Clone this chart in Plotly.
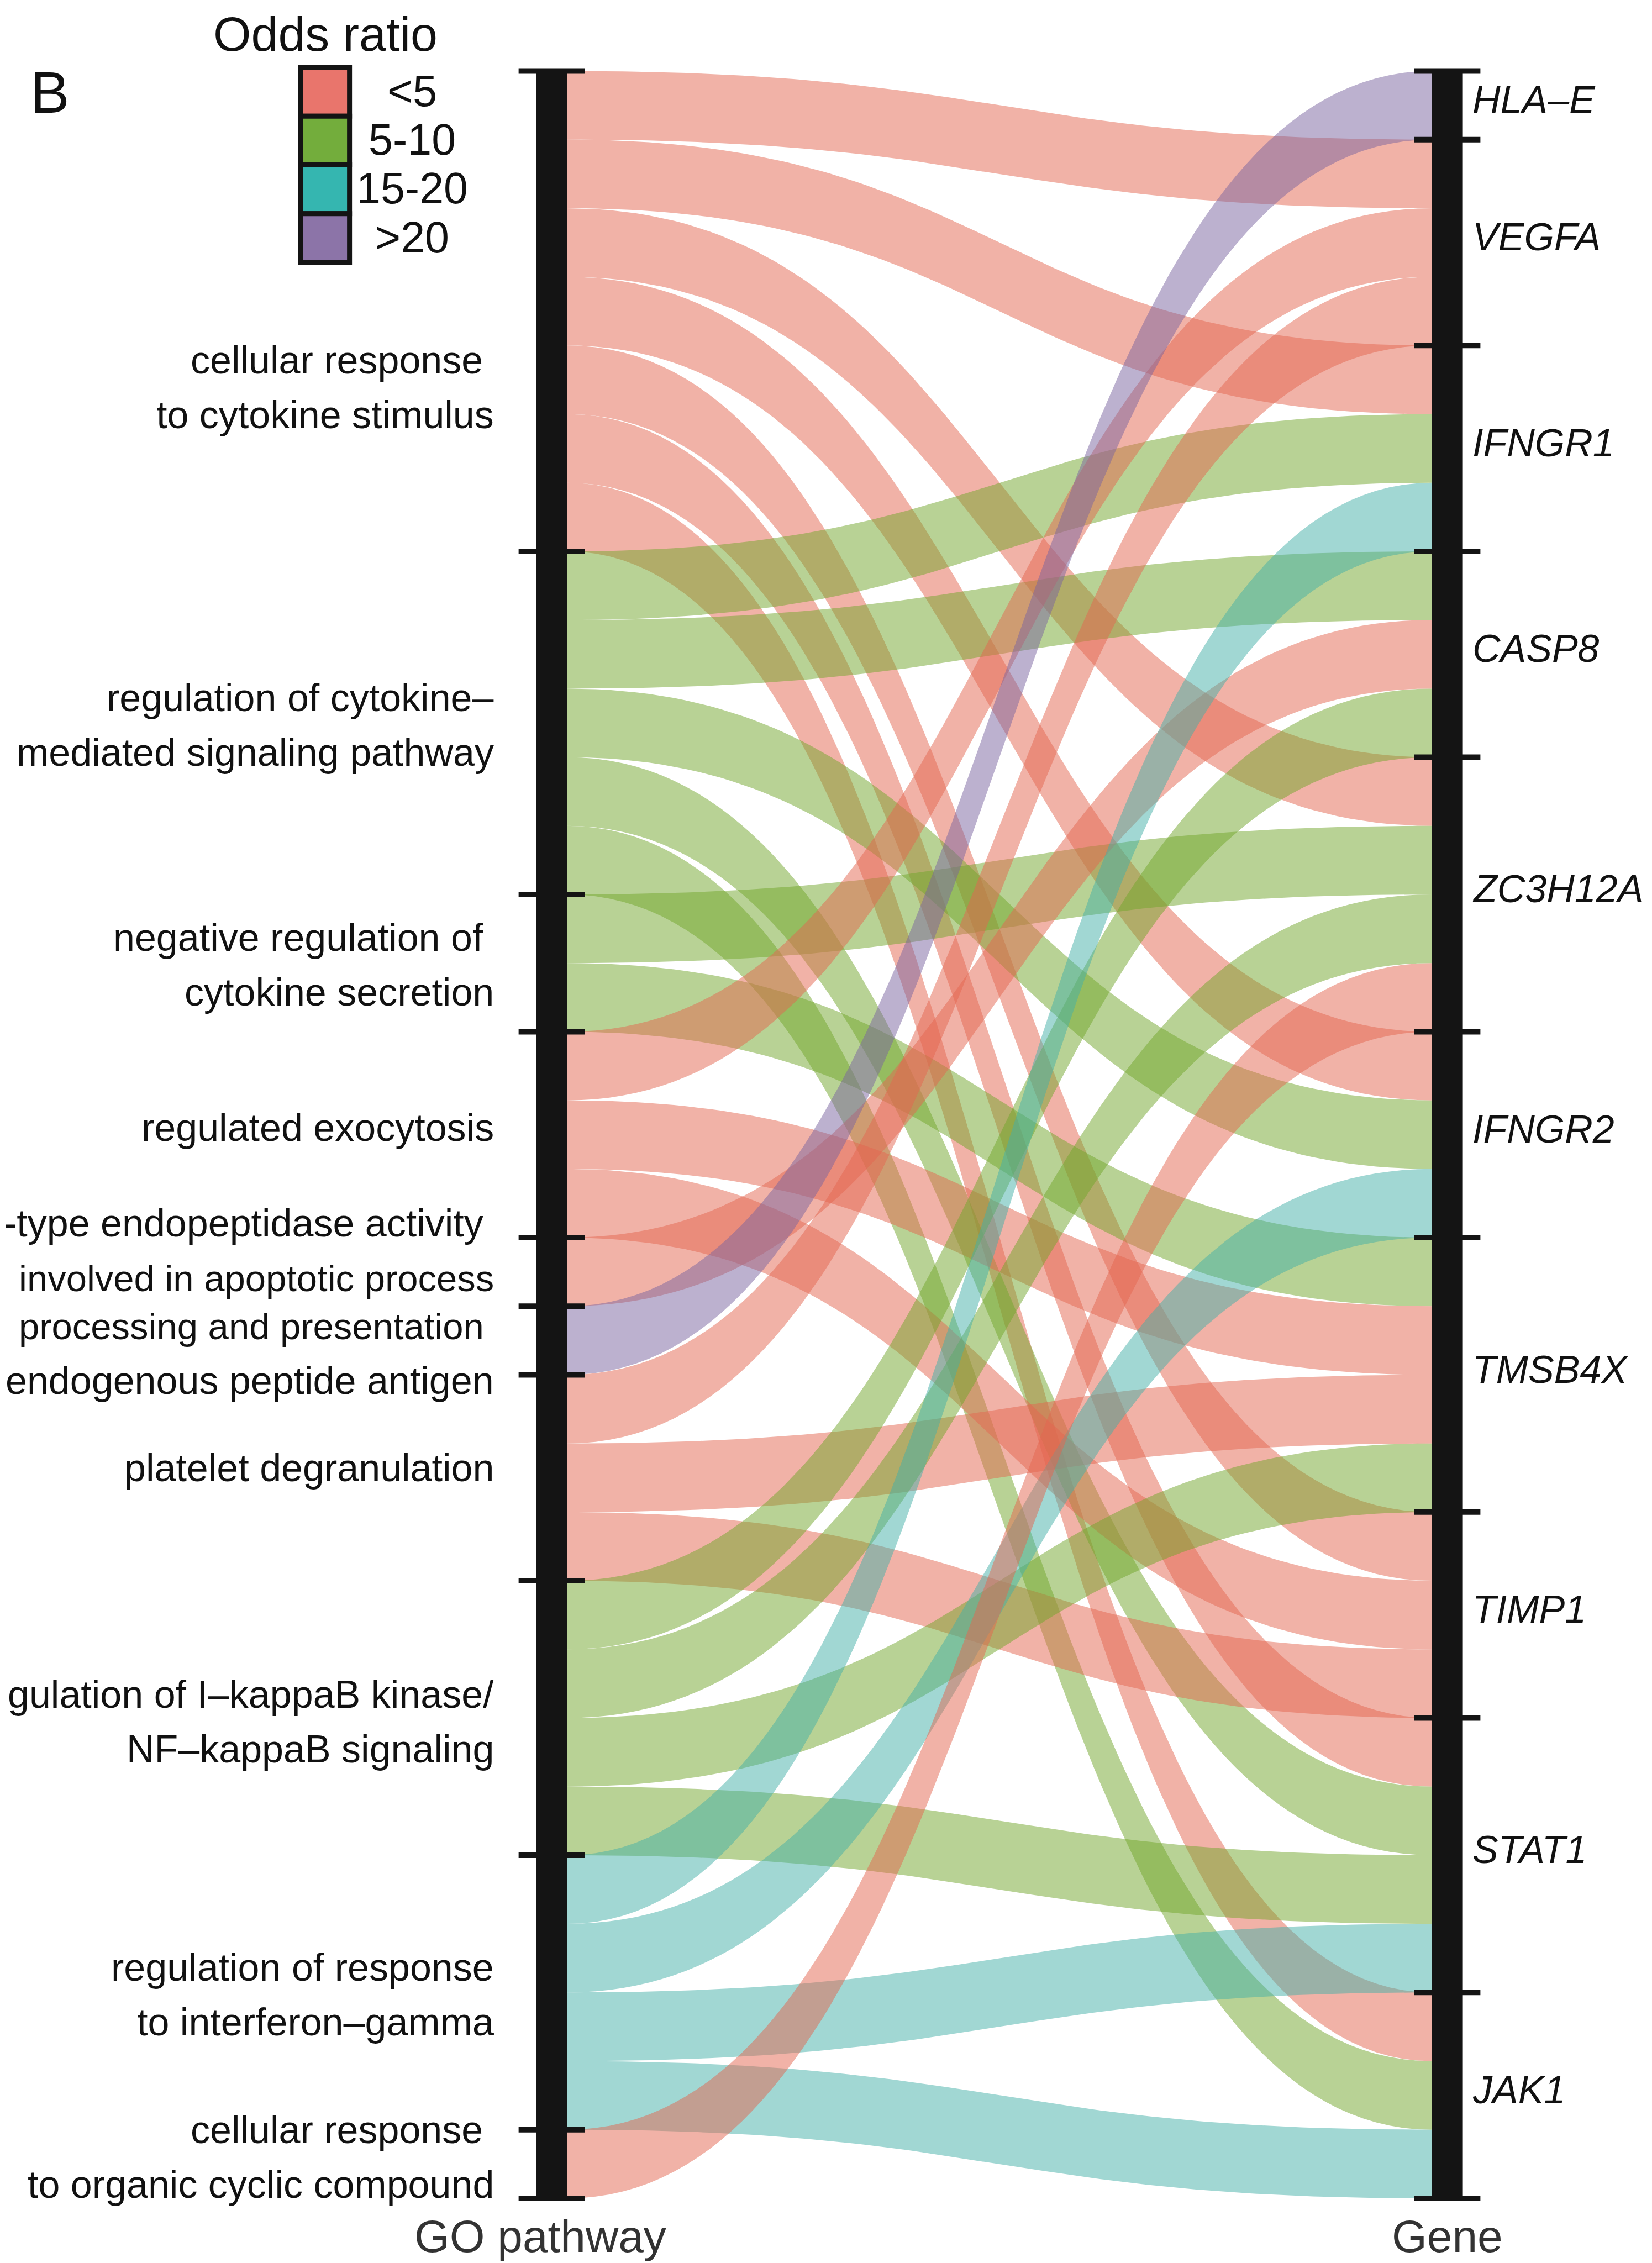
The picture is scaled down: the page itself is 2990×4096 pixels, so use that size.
import numpy as np
import plotly.graph_objects as go

# ---------------- data ----------------
# (labels as they appear in the panel; the longest ones are cut at the panel's left edge)
pathway_labels = [
    ["cellular response\u00a0", "to cytokine stimulus"],
    ["regulation of cytokine\u2013", "mediated signaling pathway"],
    ["negative regulation of\u00a0", "cytokine secretion"],
    ["regulated exocytosis"],
    ["-type endopeptidase activity\u00a0", "involved in apoptotic process"],
    ["processing and presentation\u00a0", "endogenous peptide antigen"],
    ["platelet degranulation"],
    ["gulation of I\u2013kappaB kinase/", "NF\u2013kappaB signaling"],
    ["regulation of response", "to interferon\u2013gamma"],
    ["cellular response\u00a0", "to organic cyclic compound"],
]
pathway_odds = ["<5", "5-10", "5-10", "<5", "<5", ">20", "<5", "5-10", "15-20", "<5"]
genes = ["HLA\u2013E", "VEGFA", "IFNGR1", "CASP8", "ZC3H12A", "IFNGR2",
         "TMSB4X", "TIMP1", "STAT1", "JAK1"]
pathway_genes = [
    ["VEGFA", "IFNGR1", "ZC3H12A", "IFNGR2", "TIMP1", "STAT1", "JAK1"],
    ["IFNGR1", "CASP8", "IFNGR2", "STAT1", "JAK1"],
    ["ZC3H12A", "TMSB4X"],
    ["VEGFA", "TMSB4X", "TIMP1"],
    ["CASP8"],
    ["HLA\u2013E"],
    ["VEGFA", "TMSB4X", "TIMP1"],
    ["CASP8", "ZC3H12A", "TMSB4X", "STAT1"],
    ["IFNGR1", "IFNGR2", "STAT1", "JAK1"],
    ["ZC3H12A"],
]
odds_levels = ["<5", "5-10", "15-20", ">20"]
odds_solid = ["#E9756C", "#73AD3C", "#35B6B0", "#8C74A8"]
odds_flow = ["rgba(228,102,80,0.5)", "rgba(114,166,44,0.5)",
             "rgba(68,176,168,0.5)", "rgba(122,99,160,0.5)"]
flow_value = 1

# ---------------- geometry (layout) ----------------
W, H = 2990, 4096
REF_W, REF_H = 3200, 4384
px_per_x = 1735.0            # reference px per x unit
x_left_px = 1060.0
px_per_y = 132.94            # reference px per flow unit
top_px = 129.0
xmin = 1 - x_left_px / px_per_x
xmax = xmin + REF_W / px_per_x
bar_hw = 30 / px_per_x
tick_hw = 64 / px_per_x
FONT = "Liberation Sans, Arial, Helvetica, sans-serif"
INK = "#141414"

# ---------------- build flows ----------------
flows = []
for p, gl in enumerate(pathway_genes):
    for g in gl:
        flows.append((p, genes.index(g), flow_value))
total = sum(f[2] for f in flows)
ymax = total + top_px / px_per_y
ymin = ymax - REF_H / px_per_y

left_pos = {}
cum = total
left_bounds = [total]
for p in range(len(pathway_labels)):
    fl = sorted([f for f in flows if f[0] == p], key=lambda f: f[1])
    for f in fl:
        left_pos[(f[0], f[1])] = (cum, cum - f[2])
        cum -= f[2]
    left_bounds.append(cum)
right_pos = {}
cum = total
right_bounds = [total]
for g in range(len(genes)):
    fl = sorted([f for f in flows if f[1] == g], key=lambda f: f[0])
    for f in fl:
        right_pos[(f[0], f[1])] = (cum, cum - f[2])
        cum -= f[2]
    right_bounds.append(cum)

xa, xb = 1 + bar_hw, 2 - bar_hw
xm = (xa + xb) / 2
t = np.linspace(0, 1, 90)
bx = (1 - t) ** 3 * xa + 3 * (1 - t) ** 2 * t * xm + 3 * (1 - t) * t ** 2 * xm + t ** 3 * xb


def bez_y(y0, y1):
    return (1 - t) ** 3 * y0 + 3 * (1 - t) ** 2 * t * y0 + 3 * (1 - t) * t ** 2 * y1 + t ** 3 * y1


fig = go.Figure()
for f in flows:
    key = (f[0], f[1])
    lt, lb = left_pos[key]
    rt, rb = right_pos[key]
    top = bez_y(lt, rt)
    bot = bez_y(lb, rb)
    xs = np.concatenate([bx, bx[::-1], bx[:1]])
    ys = np.concatenate([top, bot[::-1], top[:1]])
    ci = odds_levels.index(pathway_odds[f[0]])
    fig.add_trace(go.Scatter(x=xs, y=ys, mode="lines", fill="toself",
                             fillcolor=odds_flow[ci], line=dict(width=0),
                             hoverinfo="skip", showlegend=False))

shapes = []
for ax in (1, 2):
    shapes.append(dict(type="rect", xref="x", yref="y", x0=ax - bar_hw, x1=ax + bar_hw,
                       y0=0, y1=total, fillcolor=INK, line=dict(width=0), layer="above"))
for ax, bounds in ((1, left_bounds), (2, right_bounds)):
    for b in bounds:
        shapes.append(dict(type="line", xref="x", yref="y", x0=ax - tick_hw, x1=ax + tick_hw,
                           y0=b, y1=b, line=dict(color=INK, width=10), layer="above"))

annotations = []
line_sp = 106 / px_per_y
label_shift = {0: -1.11, 3: 0.1, 4: 0.31, 5: -0.19, 6: 0.14, 7: -0.06, 9: 0.1}
label_size = {(4, 1): 67, (5, 0): 67}
label_x = 1 - 110 / px_per_x
for p, lines in enumerate(pathway_labels):
    c = (left_bounds[p] + left_bounds[p + 1]) / 2
    n = len(lines)
    shift = label_shift.get(p, -0.03)
    for i, ln in enumerate(lines):
        y = c + shift + (n - 1) / 2 * line_sp - i * line_sp
        annotations.append(dict(x=label_x, y=y, xref="x", yref="y", text=ln,
                                showarrow=False, xanchor="right", yanchor="middle",
                                font=dict(family=FONT, size=label_size.get((p, i), 70),
                                          color="#111111")))
gene_x = 2 + 46 / px_per_x
for g, name in enumerate(genes):
    c = (right_bounds[g] + right_bounds[g + 1]) / 2 + 0.08
    annotations.append(dict(x=gene_x, y=c, xref="x", yref="y", text="<i>%s</i>" % name,
                            showarrow=False, xanchor="left", yanchor="middle",
                            font=dict(family=FONT, size=70, color="#111111")))
title_y = ymax - 4324 / px_per_y
for ax, name in ((1 - 22 / px_per_x, "GO pathway"), (2, "Gene")):
    annotations.append(dict(x=ax, y=title_y, xref="x", yref="y", text=name,
                            showarrow=False, xanchor="center", yanchor="middle",
                            font=dict(family=FONT, size=82, color="#333333")))

annotations.append(dict(x=48 / REF_W, y=1 - 170 / REF_H, xref="paper", yref="paper",
                        text="B", showarrow=False, xanchor="left", yanchor="middle",
                        font=dict(family=FONT, size=106, color="#111111")))
annotations.append(dict(x=622 / REF_W, y=1 - 57 / REF_H, xref="paper", yref="paper",
                        text="Odds ratio", showarrow=False, xanchor="center", yanchor="middle",
                        font=dict(family=FONT, size=88, color="#111111")))
key_top, key_h = 122.0, 94.5
key_x0, key_x1 = 573.5, 668.5
for i, lev in enumerate(odds_levels):
    y0 = key_top + i * key_h
    y1 = y0 + key_h
    shapes.append(dict(type="rect", xref="paper", yref="paper",
                       x0=key_x0 / REF_W, x1=key_x1 / REF_W,
                       y0=1 - y1 / REF_H, y1=1 - y0 / REF_H,
                       fillcolor=odds_solid[i], line=dict(color=INK, width=9)))
    annotations.append(dict(x=790 / REF_W, y=1 - (y0 + key_h / 2 - 2) / REF_H,
                            xref="paper", yref="paper", text=lev, showarrow=False,
                            xanchor="center", yanchor="middle",
                            font=dict(family=FONT, size=79, color="#111111")))

fig.update_layout(
    width=W, height=H, margin=dict(l=0, r=0, t=0, b=0),
    paper_bgcolor="white", plot_bgcolor="white", showlegend=False,
    xaxis=dict(range=[xmin, xmax], visible=False, fixedrange=True),
    yaxis=dict(range=[ymin, ymax], visible=False, fixedrange=True),
    shapes=shapes, annotations=annotations,
)
fig.write_html("out.html")
